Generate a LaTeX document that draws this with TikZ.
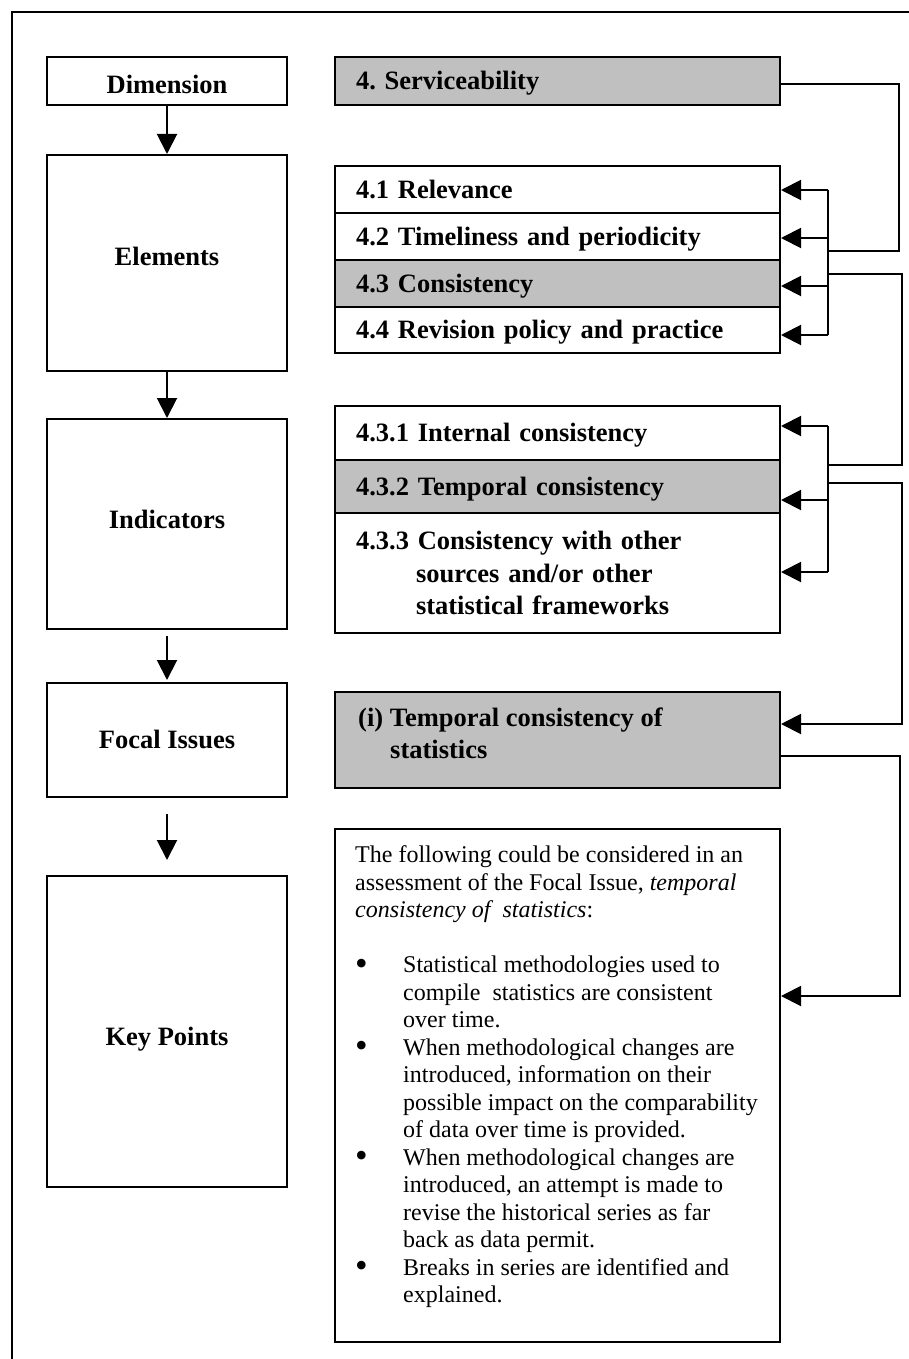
\documentclass[tikz,border=0pt]{standalone}
\usepackage{fontspec}
\setmainfont{Liberation Serif}
\usetikzlibrary{arrows.meta}
\definecolor{boxgray}{RGB}{192,192,192}
\newcommand{\bigbul}{\makebox[48pt][l]{\raisebox{-2.5pt}{\fontsize{36}{27.5}\selectfont\textbullet}}}
\frenchspacing
\begin{document}
\frenchspacing
\begin{tikzpicture}[x=1pt,y=-1pt,
  frame/.style={draw, line width=2pt},
  lbox/.style={frame, minimum width=240pt, inner sep=0pt},
  boldfont/.style={font=\fontsize{26.5}{32.5}\selectfont\bfseries\frenchspacing},
  ltext/.style={boldfont, anchor=base, inner sep=0pt},
  rrow/.style={frame, boldfont, minimum width=445pt, text width=403pt, inner xsep=21pt, inner ysep=0pt, align=left},
  oneline/.style={text height=23.9pt, text depth=6.4pt},
  shaded/.style={fill=boxgray},
  conn/.style={line width=2pt},
  arr/.style={conn, -{Triangle[length=20pt,width=20pt]}},
]
\useasboundingbox (0,0) rectangle (909,1359);
\draw[line width=2.7pt] (12,1359) -- (12,12) -- (909,12);

% left column
\node[lbox, minimum height=48pt] (dim) at (167,81) {};
\node[ltext] (dimT) at (167,93.8) {Dimension};
\node[lbox, minimum height=216pt] (elem) at (167,263) {};
\node[ltext] (elemT) at (167,265.8) {Elements};
\node[lbox, minimum height=210pt] (ind) at (167,524) {};
\node[ltext] (indT) at (167,528.8) {Indicators};
\node[lbox, minimum height=114pt] (foc) at (167,740) {};
\node[ltext] (focT) at (167,748.8) {Focal Issues};
\node[lbox, minimum height=311pt] (key) at (167,1031.5) {};
\node[ltext] (keyT) at (167,1045.8) {Key Points};

\draw[arr] (dim.south) -- (elem.north);
\draw[arr] (elem.south) -- (ind.north);
\draw[arr, shorten <=6pt, shorten >=2pt] (ind.south) -- (foc.north);
\draw[arr, shorten <=16pt, shorten >=15pt] (foc.south) -- (key.north);

% right column
\node[rrow, oneline, shaded, minimum height=48pt] (serv) at (557.5,81) {4. Serviceability};
\node[rrow, oneline, minimum height=47pt] (r41) at (557.5,189.5) {4.1 Relevance};
\node[rrow, oneline, minimum height=47pt] (r42) at (557.5,236.5) {4.2 Timeliness and periodicity};
\node[rrow, oneline, shaded, minimum height=47pt] (r43) at (557.5,283.5) {4.3 Consistency};
\node[rrow, oneline, minimum height=46pt] (r44) at (557.5,330) {4.4 Revision policy and practice};
\node[rrow, oneline, minimum height=54pt] (r431) at (557.5,433) {4.3.1 Internal consistency};
\node[rrow, oneline, shaded, minimum height=53pt] (r432) at (557.5,486.5) {4.3.2 Temporal consistency};
\node[rrow, minimum height=120pt] (r433) at (557.5,573) {4.3.3 Consistency with other\\\hspace*{60pt}sources and/or other\\\hspace*{60pt}statistical frameworks};
\node[rrow, shaded, minimum height=96pt] (focR) at (557.5,740) {};
\node[boldfont, anchor=north west, inner sep=0pt, align=left] (focRT) at (358,707.5) {(i) Temporal consistency of\\\hspace*{32pt}statistics};
\node[frame, minimum width=445pt, minimum height=513pt] (kbox) at (557.5,1085.5) {};
\node[anchor=north west, inner sep=0pt, align=left, font=\fontsize{24}{27.5}\selectfont\frenchspacing] (ktxt) at (355,845.6) {The following could be considered in an\\
assessment of the Focal Issue, \textit{temporal}\\
\textit{consistency of\ \ statistics}:\\[27.5pt]
\bigbul Statistical methodologies used to\\
\hspace*{48pt}compile\ \ statistics are consistent\\
\hspace*{48pt}over time.\\
\bigbul When methodological changes are\\
\hspace*{48pt}introduced, information on their\\
\hspace*{48pt}possible impact on the comparability\\
\hspace*{48pt}of data over time is provided.\\
\bigbul When methodological changes are\\
\hspace*{48pt}introduced, an attempt is made to\\
\hspace*{48pt}revise the historical series as far\\
\hspace*{48pt}back as data permit.\\
\bigbul Breaks in series are identified and\\
\hspace*{48pt}explained.};

% connectors
\coordinate (s1) at (899,84);
\coordinate (s2) at (899,251);
\coordinate (j1) at (828,251);
\draw[conn] (serv.east |- s1) -- (s1) -- (s2) -- (j1);

\coordinate (b1) at (828,190);
\coordinate (b2) at (828,238);
\coordinate (b3) at (828,286);
\coordinate (b4) at (828,335);
\draw[conn] (b1) -- (b4);
\draw[arr] (b1) -- (b1 -| r41.east);
\draw[arr] (b2) -- (b2 -| r42.east);
\draw[arr] (b3) -- (b3 -| r43.east);
\draw[arr] (b4) -- (b4 -| r44.east);

\coordinate (t1) at (828,274);
\coordinate (t2) at (902,274);
\coordinate (t3) at (902,465);
\coordinate (t4) at (828,465);
\draw[conn] (t1) -- (t2) -- (t3) -- (t4);

\coordinate (c1) at (828,426);
\coordinate (c2) at (828,500);
\coordinate (c3) at (828,572);
\draw[conn] (c1) -- (c3);
\draw[arr] (c1) -- (c1 -| r431.east);
\draw[arr] (c2) -- (c2 -| r432.east);
\draw[arr] (c3) -- (c3 -| r433.east);

\coordinate (u1) at (828,483);
\coordinate (u2) at (902,483);
\coordinate (u3) at (902,724);
\draw[arr] (u1) -- (u2) -- (u3) -- (u3 -| focR.east);

\coordinate (v1) at (900,756);
\coordinate (v2) at (900,996);
\draw[arr] (focR.east |- v1) -- (v1) -- (v2) -- (v2 -| kbox.east);
\end{tikzpicture}
\end{document}
